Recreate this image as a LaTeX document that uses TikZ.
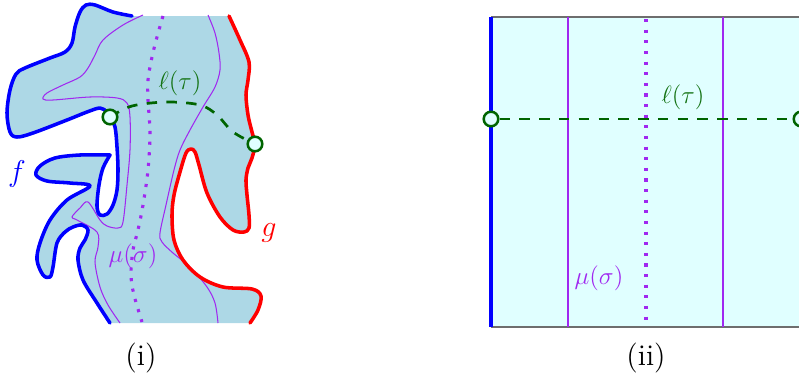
\documentclass[tikz,border=0pt]{standalone}
\definecolor{fblue}{RGB}{0,0,255}
\definecolor{gred}{RGB}{255,0,0}
\definecolor{regfill}{RGB}{173,216,230}
\definecolor{rectfill}{RGB}{224,255,255}
\definecolor{muc}{RGB}{160,40,240}
\definecolor{ellc}{RGB}{0,100,0}
\definecolor{elltext}{RGB}{20,115,20}
\definecolor{edgegray}{RGB}{110,110,110}
\begin{document}
\begin{tikzpicture}[x=0.48pt,y=-0.48pt,
  fcurve/.style={draw=fblue,line width=1.7pt,line join=round,line cap=round},
  gcurve/.style={draw=gred,line width=1.7pt,line join=round,line cap=round},
  muthin/.style={draw=muc,line width=0.5pt},
  mudots/.style={draw=muc,line width=1.5pt,dash pattern=on 1.5pt off 3.6pt},
  elldash/.style={draw=ellc,line width=1.3pt,dash pattern=on 5pt off 4.5pt},
  endpt/.style={circle,draw=ellc,fill=rectfill,line width=1.2pt,minimum size=7pt,inner sep=0pt},
  lab/.style={inner sep=0pt,font=\large},
  capt/.style={font=\Large,inner sep=0pt},
  sm/.style={smooth,tension=0.55}]
\useasboundingbox (0,0) rectangle (799,379);

% ---------------- panel (i) ----------------
\fill[regfill]
  plot[sm] coordinates {(132,16) (113,12) (95,5) (86,5) (80,12) (75,27) (72,43) (65,52) (50,58) (25,68) (16,74) (10,90) (7,113) (10,132) (17,137) (33,133) (67,120) (87,112) (100,108) (107,112) (110,117) (115,127) (117,147) (118,170) (117,190) (113,205) (107,214) (100,215) (97,206) (99,185) (103,168) (110,155)}
  -- plot[sm] coordinates {(110,155) (80,155) (55,158) (40,166) (36,175) (47,181) (70,183) (90,186) (67,200) (50,220) (40,243) (37,260) (43,275) (50,277) (53,267) (57,243) (65,232) (73,227) (82,225) (88,230) (85,240) (80,248) (78,260) (83,280) (97,303) (110,323)}
  -- (250,323)
  -- plot[sm] coordinates {(250,323) (258,310) (261,296) (252,289) (223,287) (200,277) (183,260) (174,240) (172,215) (174,195) (180,172) (186,153) (191,149) (195,152) (199,165) (207,193) (220,217) (233,230) (244,232) (249,228) (249,215) (247,195) (246,180) (248,168) (252,158) (255,144) (252,132) (248,115) (246,95) (248,80) (249,62) (240,40) (229,16)}
  -- cycle;

\draw[muthin] plot[sm] coordinates {(143,15) (123,25) (103,40) (95,55) (88,68) (80,77) (63,85) (47,93) (43,99) (53,100) (90,97) (117,98) (127,103) (130,117) (130,150) (127,185) (123,222) (118,228) (107,226) (100,220) (88,202) (80,208) (72,217) (77,220) (97,232) (98,247) (95,262) (100,287) (108,305) (120,323)};
\draw[muthin] plot[sm] coordinates {(208,15) (215,33) (219,53) (220,70) (215,87) (203,107) (190,130) (180,150) (174,170) (166,205) (160,233) (162,242) (173,253) (190,267) (207,287) (215,303) (218,323)};
\draw[mudots] plot[sm] coordinates {(163,16) (157,37) (152,57) (148,80) (148,100) (150,133) (148,170) (143,205) (138,230) (133,250) (131,275) (134,295) (142,322)};

\draw[fcurve] plot[sm] coordinates {(132,16) (113,12) (95,5) (86,5) (80,12) (75,27) (72,43) (65,52) (50,58) (25,68) (16,74) (10,90) (7,113) (10,132) (17,137) (33,133) (67,120) (87,112) (100,108) (107,112) (110,117) (115,127) (117,147) (118,170) (117,190) (113,205) (107,214) (100,215) (97,206) (99,185) (103,168) (110,155)}
  -- plot[sm] coordinates {(110,155) (80,155) (55,158) (40,166) (36,175) (47,181) (70,183) (90,186) (67,200) (50,220) (40,243) (37,260) (43,275) (50,277) (53,267) (57,243) (65,232) (73,227) (82,225) (88,230) (85,240) (80,248) (78,260) (83,280) (97,303) (110,323)};
\draw[gcurve] plot[sm] coordinates {(229,16) (240,40) (249,62) (248,80) (246,95) (248,115) (252,132) (255,144) (252,158) (248,168) (246,180) (247,195) (249,215) (249,228) (244,232) (233,230) (220,217) (207,193) (199,165) (195,152) (191,149) (186,153) (180,172) (174,195) (172,215) (174,240) (183,260) (200,277) (223,287) (252,289) (261,296) (258,310) (250,323)};

\coordinate (a1) at (110,117);
\coordinate (a2) at (255,144);
\draw[elldash] plot[sm] coordinates {(a1) (132,106) (167,102) (200,105) (217,115) (233,132) (a2)};
\node[endpt] (c1) at (a1) {};
\node[endpt] (c2) at (a2) {};

\node[lab,text=elltext] (ellA) at (180,83) {$\ell(\tau)$};
\node[lab,text=muc] (muA) at (133,256) {$\mu(\sigma)$};
\node[lab,text=fblue,font=\Large] (fl) at (17,174) {$f$};
\node[lab,text=gred,font=\Large] (gl) at (269,233) {$g$};
\node[capt] (capi) at (141,358) {(i)};

% ---------------- panel (ii) ----------------
\fill[rectfill] (491,17) rectangle (801,327);
\draw[edgegray,line width=0.8pt] (491,17) -- (801,17);
\draw[edgegray,line width=0.8pt] (491,327) -- (801,327);
\draw[muthin] (568,17) -- (568,327);
\draw[muthin] (723,17) -- (723,327);
\draw[mudots] (646,19) -- (646,327);
\draw[fcurve,line cap=butt] (491,17) -- (491,327);
\node[endpt] (b1) at (491,119) {};
\node[endpt] (b2) at (801,119) {};
\draw[elldash,line width=0.8pt] (b1) -- (b2);
\node[lab,text=elltext] (ellB) at (683,97) {$\ell(\tau)$};
\node[lab,text=muc] (muB) at (599,278) {$\mu(\sigma)$};
\node[capt] (capii) at (646,358) {(ii)};
\end{tikzpicture}
\end{document}
